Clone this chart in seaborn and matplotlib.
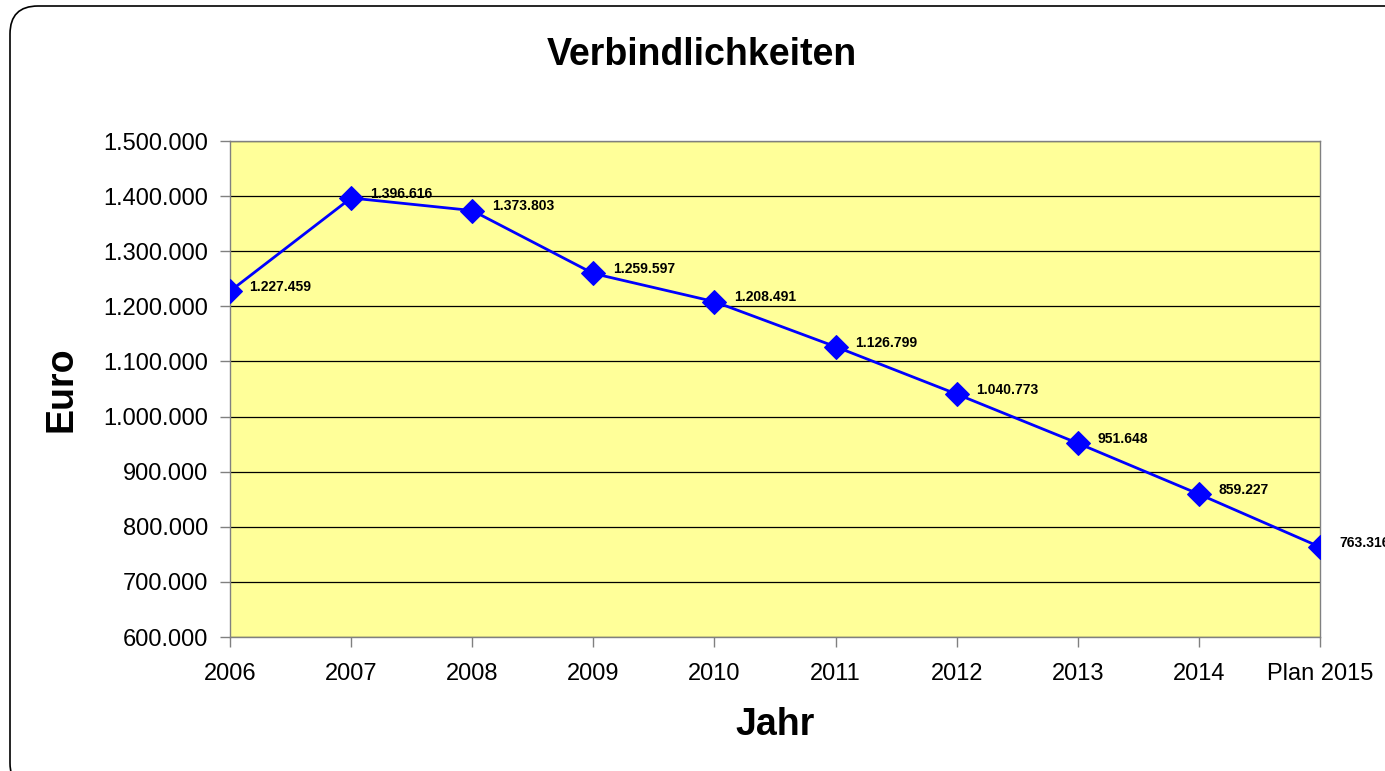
import pandas as pd
import matplotlib
matplotlib.use('Agg')
import matplotlib.pyplot as plt
import seaborn as sns
from matplotlib.patches import FancyBboxPatch

# Daten
jahre = ['2006', '2007', '2008', '2009', '2010', '2011', '2012', '2013', '2014', 'Plan 2015']
verbindlichkeiten = [1227459, 1396616, 1373803, 1259597, 1208491, 1126799, 1040773, 951648, 859227, 763316]
y_ticks = [600000, 700000, 800000, 900000, 1000000, 1100000, 1200000, 1300000, 1400000, 1500000]

df = pd.DataFrame({'pos': range(len(jahre)), 'jahr': jahre, 'wert': verbindlichkeiten})


def de_format(v):
    return f'{v:,.0f}'.replace(',', '.')


sns.set_style('white')
plt.rcParams['font.family'] = ['Liberation Sans', 'DejaVu Sans']
plt.rcParams['text.color'] = 'black'
plt.rcParams['axes.labelcolor'] = 'black'
plt.rcParams['xtick.labelcolor'] = 'black'
plt.rcParams['ytick.labelcolor'] = 'black'

fig = plt.figure(figsize=(13.85, 7.71), dpi=100)
ax = fig.add_axes([230 / 1385, 1 - 637 / 771, 1090 / 1385, 496 / 771])
ax.set_facecolor('#FFFF99')

sns.lineplot(data=df, x='pos', y='wert', ax=ax, color='#0000FF', linewidth=2,
             marker='D', markersize=12, markeredgecolor='#0000FF', sort=False, zorder=5)

# Datenbeschriftungen (der letzte Wert wird wie im Original am Rand abgeschnitten)
for x, v in zip(df['pos'], df['wert']):
    ax.annotate(de_format(v), (x, v), xytext=(14, 3), textcoords='offset points',
                ha='left', va='center', fontsize=10, fontweight='bold', annotation_clip=False)

ax.set_xlim(0, len(jahre) - 1)
ax.set_ylim(600000, 1500000)
ax.set_xticks(df['pos'])
ax.set_xticklabels(jahre)
ax.set_yticks(y_ticks)
ax.set_yticklabels([de_format(t) for t in y_ticks])
ax.tick_params(axis='both', labelsize=17, direction='out', length=7, width=1,
               color='#808080', bottom=True, left=True)
ax.tick_params(axis='x', pad=12)
ax.tick_params(axis='y', pad=9)
ax.grid(axis='y', color='black', linewidth=0.9)
ax.set_axisbelow(True)
for s in ax.spines.values():
    s.set_color('#808080')
    s.set_linewidth(1)
ax.set_xlabel('')
ax.set_ylabel('')

fig.text(702 / 1385, 1 - 55 / 771, 'Verbindlichkeiten', ha='center', va='center',
         fontsize=27, fontweight='bold')
fig.text(775 / 1385, 1 - 725 / 771, 'Jahr', ha='center', va='center',
         fontsize=27, fontweight='bold')
fig.text(62 / 1385, 1 - 389 / 771, 'Euro', ha='center', va='center', rotation=90,
         fontsize=27, fontweight='bold')

# Rahmen mit runden Ecken
rahmen = FancyBboxPatch((10, -20), 1420, 785, boxstyle='round,pad=0,rounding_size=28',
                        transform=None, fill=False, edgecolor='black', linewidth=1.2)
fig.patches.append(rahmen)

fig.savefig('out.png', dpi=100)
